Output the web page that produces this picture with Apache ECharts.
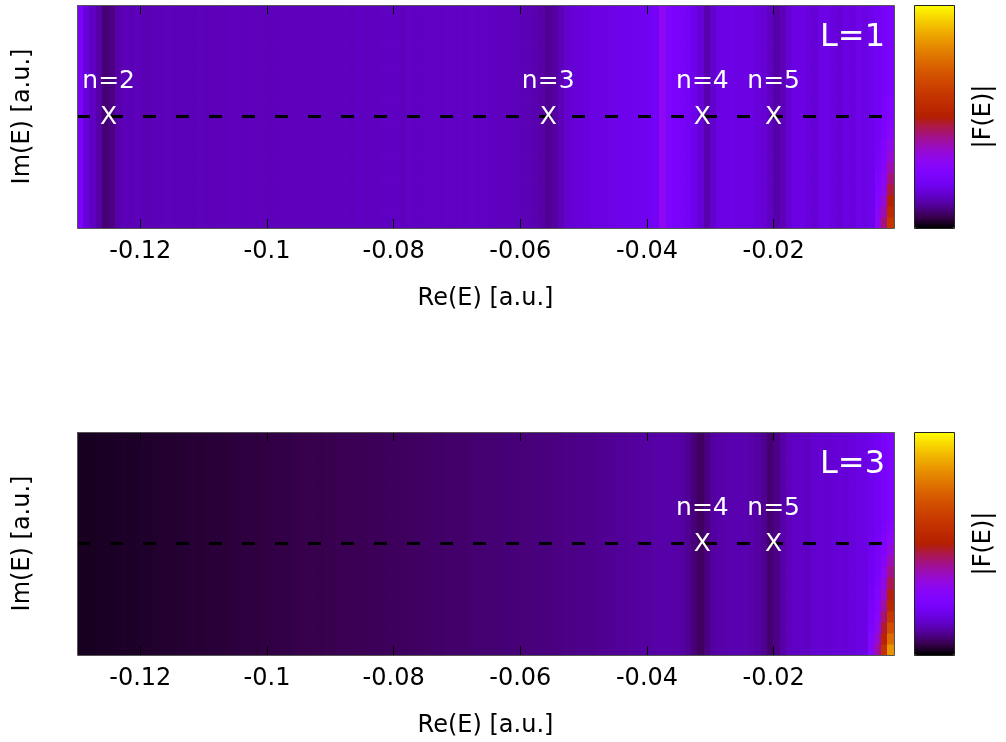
<!DOCTYPE html>
<html><head><meta charset="utf-8">
<script src="https://cdn.jsdelivr.net/npm/echarts@6/dist/echarts.min.js"></script>
<style>html,body{margin:0;padding:0;background:#fff}#c{width:1006px;height:742px}</style>
</head><body><div id="c"></div>
<script>
// ---------- data ----------
const reStart = -0.13;          // left edge of Re(E) range
const reEnd = -0.001;           // right edge of Re(E) range
const reStep = 0.001;           // column width of the |F(E)| map
const imEdges = [-1,-0.9,-0.8,-0.7,-0.6,-0.5,-0.4,-0.3,-0.2,-0.1,0,0.1,0.2,0.3,0.4,0.5,0.6,0.7,0.8,0.9,1];
const xTickValues = [-0.12,-0.1,-0.08,-0.06,-0.04,-0.02];

// |F(E)| (normalised, 0..1) per Re column, L=1
const fL1 = [
 0.23,0.17,0.14,0.115,0.075,0.085,0.118,0.13,
 0.128,0.132,0.13,0.127,0.131,0.13,0.133,0.129,0.131,0.13,0.128,0.132,0.13,
 0.131,0.133,0.13,0.134,0.132,0.131,0.135,0.132,0.133,0.131,0.134,0.133,0.132,0.135,0.133,0.134,0.132,0.136,0.134,0.135,
 0.136,0.138,0.135,0.139,0.137,0.138,0.136,0.14,0.138,0.139,0.137,0.141,0.139,0.14,0.138,0.141,0.14,0.142,0.139,0.141,0.14,0.142,0.14,0.141,0.139,
 0.137,0.134,0.136,0.132,0.13,0.127,0.122,
 0.113,0.1,0.11,0.13,0.15,0.158,0.165,0.17,0.175,0.178,0.18,0.183,0.185,0.188,0.19,0.192,0.195,0.2,0.21,0.3,
 0.24,0.235,0.225,0.21,0.19,0.16,0.12,0.15,
 0.175,0.18,0.182,0.18,0.178,0.175,0.17,0.16,0.14,0.115,0.13,
 0.16,0.175,0.18,0.17,0.16,0.178,0.182,0.168,0.16,0.178,0.17,0.186,0.175,0.19,
 0.2,0.215,0.235,0.27
];
// |F(E)| per Re column, L=3
const fL3 = [
 0.02,0.022,0.021,0.023,0.024,0.023,0.025,0.026,0.025,0.027,
 0.028,0.027,0.029,0.03,0.031,0.03,0.032,0.033,0.034,0.033,
 0.035,0.036,0.037,0.036,0.038,0.039,0.04,0.041,0.04,0.042,
 0.043,0.044,0.045,0.044,0.046,0.047,0.048,0.049,0.048,0.05,
 0.051,0.052,0.053,0.054,0.053,0.055,0.056,0.057,0.058,0.059,
 0.06,0.061,0.062,0.063,0.064,0.065,0.066,0.067,0.068,0.069,
 0.07,0.071,0.072,0.073,0.074,0.075,0.076,0.077,0.078,0.079,
 0.08,0.081,0.082,0.083,0.084,0.085,0.087,0.088,0.089,0.091,
 0.092,0.094,0.096,0.098,0.1,0.102,0.104,0.106,0.108,0.11,
 0.112,0.114,0.116,0.117,0.118,0.112,0.098,
 0.08,0.062,0.085,
 0.108,0.117,0.12,0.122,0.123,0.122,0.119,0.112,
 0.098,0.072,0.09,
 0.118,0.132,0.14,0.145,0.14,0.15,0.155,0.15,0.16,0.165,0.16,0.17,0.175,0.18,
 0.19,0.205,0.22,0.245
];
// bottom-right corner (last 4 columns, lowest 12 rows from the bottom up)
const cornerL1 = [
 [0.3,0.42,0.6,0.85],
 [0.28,0.38,0.55,0.78],
 [0.26,0.34,0.5,0.7],
 [0.25,0.31,0.46,0.63],
 [0.24,0.29,0.42,0.57],
 [0.23,0.27,0.38,0.52],
 [0.22,0.26,0.34,0.48],
 [0.215,0.25,0.31,0.44],
 [0.21,0.24,0.28,0.4],
 [0.21,0.235,0.265,0.35],
 [0.205,0.23,0.255,0.31],
 [0.2,0.225,0.25,0.29]
];
const cornerL3 = [
 [0.28,0.4,0.58,0.83],
 [0.26,0.36,0.52,0.75],
 [0.24,0.32,0.47,0.67],
 [0.23,0.29,0.43,0.6],
 [0.22,0.27,0.39,0.54],
 [0.21,0.255,0.35,0.49],
 [0.205,0.245,0.32,0.45],
 [0.2,0.235,0.29,0.41],
 [0.2,0.225,0.27,0.37],
 [0.195,0.22,0.255,0.33],
 [0.195,0.215,0.24,0.29],
 [0.19,0.21,0.23,0.27]
];
const levelsL1Re = [-0.125,-0.0556,-0.03125,-0.02];
const levelsL1Names = ['n=2','n=3','n=4','n=5'];
const levelsL3Re = [-0.03125,-0.02];
const levelsL3Names = ['n=4','n=5'];
const panelNames = ['L=1','L=3'];
const dashIm = 0;

// ---------- build ----------
const FONT = 'DejaVu Sans';
const palette = ['#000000','#39004f','#510096','#6301ce','#7202f3','#8004ff','#8c07f3','#970bce','#a11096','#ab174f',
 '#b42000','#bd2a00','#c63700','#ce4600','#d55700','#dd6c00','#e48300','#eb9d00','#f2ba00','#f9db00','#ffff00'];
const grids = [{left:77, top:5, width:817, height:223},{left:77, top:432, width:817, height:223}];

function buildCells(profile, corner){
  const out = [];
  const nr = imEdges.length - 1;
  const cStart = profile.length - corner[0].length;
  for (let i = 0; i < profile.length; i++){
    const x0 = +(reStart + i*reStep).toFixed(4), x1 = +(reStart + (i+1)*reStep).toFixed(4);
    for (let j = 0; j < nr; j++){
      let v = profile[i];
      if (i >= cStart && j < corner.length) v = corner[j][i - cStart];
      out.push([x0, x1, imEdges[j], imEdges[j+1], v]);
    }
  }
  return out;
}
function renderCell(params, api){
  const p0 = api.coord([api.value(0), api.value(3)]);
  const p1 = api.coord([api.value(1), api.value(2)]);
  const x = Math.floor(p0[0]), y = Math.floor(p0[1]);
  return {type:'rect', shape:{x:x, y:y, width:Math.ceil(p1[0]) - x + 0.5, height:Math.ceil(p1[1]) - y + 0.5},
    style:{fill: api.visual('color')}};
}
function renderLevel(params, api){
  const p = api.coord([api.value(0), api.value(1)]);
  const name = api.value(2);
  return {type:'group', children:[
    {type:'text', x:p[0], y:p[1]+1, style:{text:'X', fill:'#fff', font:'25px "'+FONT+'"', align:'center', verticalAlign:'middle'}},
    {type:'text', x:p[0], y:p[1]-35, style:{text:name, fill:'#fff', font:'25px "'+FONT+'"', align:'center', verticalAlign:'middle'}}
  ]};
}
function levelData(res, names){ return res.map((r,k)=>[r, dashIm, names[k]]); }

const xAxes = [], yAxes = [];
grids.forEach((g, gi) => {
  const tick = {show:true, inside:true, length:9, customValues:xTickValues, lineStyle:{color:'#000', width:1}};
  xAxes.push({type:'value', gridIndex:gi, position:'bottom', min:reStart, max:reEnd, z:10,
    axisLine:{show:false, onZero:false}, splitLine:{show:false}, axisTick:tick,
    axisLabel:{customValues:xTickValues, fontSize:24, fontFamily:FONT, color:'#000', margin:12},
    name:'Re(E) [a.u.]', nameLocation:'middle', nameGap:59, nameTextStyle:{fontSize:24, fontFamily:FONT, color:'#000'}});
  xAxes.push({type:'value', gridIndex:gi, position:'top', min:reStart, max:reEnd, z:10,
    axisLine:{show:false, onZero:false}, splitLine:{show:false}, axisTick:tick, axisLabel:{show:false}});
  yAxes.push({type:'value', gridIndex:gi, min:-1, max:1, axisLine:{show:false, onZero:false}, axisTick:{show:false},
    axisLabel:{show:false}, splitLine:{show:false},
    name:'Im(E) [a.u.]', nameLocation:'middle', nameGap:42, nameTextStyle:{fontSize:24, fontFamily:FONT, color:'#000'}});
});

const profiles = [[fL1, cornerL1], [fL3, cornerL3]];
const levels = [levelData(levelsL1Re, levelsL1Names), levelData(levelsL3Re, levelsL3Names)];
const series = [];
grids.forEach((g, gi) => {
  series.push({type:'custom', name:'F'+gi, xAxisIndex:gi*2, yAxisIndex:gi, clip:true, silent:true,
    renderItem:renderCell, encode:{x:[0,1], y:[2,3]}, data:buildCells(profiles[gi][0], profiles[gi][1]), z:2});
  series.push({type:'line', xAxisIndex:gi*2, yAxisIndex:gi, symbol:'none', silent:true, z:5,
    lineStyle:{color:'#000', width:3, type:[13,20]}, data:[[reStart, dashIm],[reEnd, dashIm]]});
  series.push({type:'custom', xAxisIndex:gi*2, yAxisIndex:gi, silent:true, z:8, clip:false,
    renderItem:renderLevel, encode:{x:0, y:1}, data:levels[gi]});
});

const visualMaps = grids.map((g, gi) => ({type:'continuous', seriesIndex:gi*3, dimension:4, min:0, max:1,
  calculable:false, hoverLink:false, showLabel:false, text:null, padding:0,
  left:914, top:g.top, itemWidth:41, itemHeight:g.height, inRange:{color:palette}}));

const graphics = [];
grids.forEach((g, gi) => {
  graphics.push({type:'rect', z:100, silent:true, shape:{x:g.left+0.5, y:g.top+0.5, width:g.width, height:g.height},
    style:{fill:null, stroke:'#555', lineWidth:1}});
  graphics.push({type:'rect', z:100, silent:true, shape:{x:914.5, y:g.top+0.5, width:40, height:g.height},
    style:{fill:null, stroke:'#222', lineWidth:1}});
  graphics.push({type:'text', z:100, silent:true, x:885, y:g.top+33, style:{text:panelNames[gi], fill:'#fff',
    font:'32px "'+FONT+'"', align:'right', verticalAlign:'middle'}});
  graphics.push({type:'text', z:100, silent:true, x:984, y:g.top+g.height/2, rotation:Math.PI/2,
    style:{text:'|F(E)|', fill:'#000', font:'24px "'+FONT+'"', align:'center', verticalAlign:'middle'}});
});

const chart = echarts.init(document.getElementById('c'), null, {renderer:'canvas'});
chart.setOption({
  animation:false, backgroundColor:'#fff',
  grid: grids.map(g => Object.assign({containLabel:false}, g)),
  xAxis: xAxes, yAxis: yAxes, visualMap: visualMaps, series: series, graphic: graphics
});
</script></body></html>
